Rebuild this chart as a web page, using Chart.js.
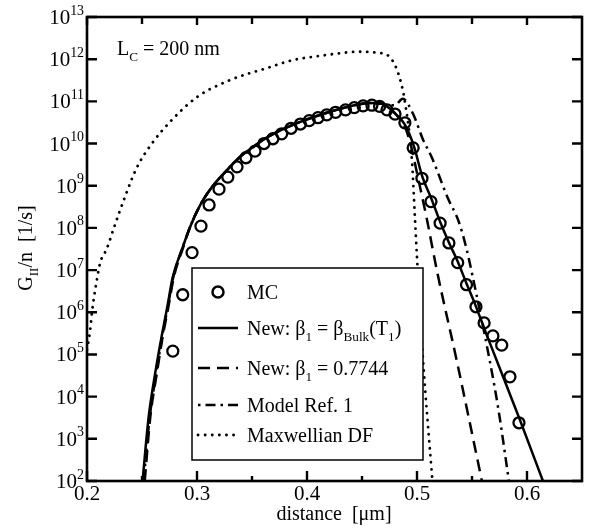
<!DOCTYPE html>
<html lang="en">
<head>
    <meta charset="UTF-8">
    <title>Impact ionization rate</title>
    <script src="https://cdn.jsdelivr.net/npm/chart.js"></script>
    <style>
        body {
            margin: 0;
            background: #fff;
        }
        .wrap {
            width: 592px;
            height: 531px;
        }
    </style>
</head>
<body>
    <div class="wrap">
        <canvas id="chart" width="592" height="531"></canvas>
    </div>

    <script>
        // MC symbols
        const mcX = [0.278, 0.287, 0.2955, 0.3036, 0.311, 0.32, 0.328, 0.3364, 0.3445, 0.3527,
                     0.3609, 0.369, 0.377, 0.3855, 0.394, 0.402, 0.41, 0.418, 0.426, 0.435,
                     0.443, 0.451, 0.459, 0.466, 0.4727, 0.48, 0.489, 0.4965, 0.5045, 0.5127,
                     0.521, 0.529, 0.537, 0.545, 0.5536, 0.561, 0.569, 0.577, 0.5845, 0.5927];
        const mcY = [1.2e5, 2.6e6, 2.6e7, 1.1e8, 3.5e8, 8.3e8, 1.6e9, 2.8e9, 4.6e9, 6.6e9,
                     1.0e10, 1.3e10, 1.7e10, 2.3e10, 2.9e10, 3.5e10, 4.1e10, 4.8e10, 5.5e10, 6.3e10,
                     7.1e10, 7.8e10, 8.1e10, 7.6e10, 6.3e10, 5.0e10, 3.1e10, 7.9e9, 1.5e9, 4.2e8,
                     1.3e8, 4.4e7, 1.5e7, 4.5e6, 1.35e6, 5.6e5, 2.75e5, 1.66e5, 2.95e4, 2.4e3];

        // New: beta1 = betaBulk(T1)
        const bulkX = [0.2505, 0.256, 0.262, 0.268, 0.273, 0.278, 0.2865, 0.294, 0.303, 0.3136,
                       0.327, 0.339, 0.351, 0.3636, 0.3845, 0.4055, 0.427, 0.4455, 0.457, 0.467,
                       0.4727, 0.48, 0.489, 0.497, 0.505, 0.513, 0.521, 0.529, 0.537, 0.545,
                       0.553, 0.5636, 0.5936, 0.6145];
        const bulkY = [1e2, 3.2e3, 3.6e4, 2.8e5, 1.35e6, 6.9e6, 3.2e7, 1.1e8, 3.5e8, 9.3e8,
                       2.3e9, 4.8e9, 8.3e9, 1.4e10, 2.6e10, 4.2e10, 6.3e10, 8.3e10, 9.1e10, 8.9e10,
                       7.6e10, 5.2e10, 2.8e10, 8.9e9, 1.6e9, 5.0e8, 1.4e8, 4.5e7, 1.6e7, 4.8e6,
                       1.5e6, 2.8e5, 2.8e3, 1e2];

        // New: beta1 = 0.7744
        const fixedX = [0.2525, 0.2575, 0.2635, 0.269, 0.274, 0.279, 0.287, 0.294, 0.303, 0.3136,
                        0.327, 0.339, 0.351, 0.3636, 0.3845, 0.4055, 0.427, 0.4455, 0.457, 0.467,
                        0.4727, 0.48, 0.489, 0.495, 0.5, 0.509, 0.518, 0.536, 0.559];
        const fixedY = [1e2, 3.2e3, 3.6e4, 2.8e5, 1.35e6, 6.9e6, 3.2e7, 1.1e8, 3.5e8, 9.3e8,
                        2.3e9, 4.8e9, 8.3e9, 1.4e10, 2.6e10, 4.2e10, 6.3e10, 8.3e10, 9.1e10, 8.9e10,
                        7.6e10, 5.2e10, 2.5e10, 7.9e9, 2.0e9, 1.6e8, 1.0e7, 7.4e4, 1e2];

        // Model Ref. 1
        const refX = [0.2515, 0.257, 0.263, 0.2685, 0.2735, 0.2785, 0.2865, 0.294, 0.303, 0.3136,
                      0.327, 0.339, 0.351, 0.3636, 0.3845, 0.4055, 0.427, 0.4455, 0.457, 0.467,
                      0.4727, 0.48, 0.487, 0.4965, 0.5055, 0.5136, 0.528, 0.538, 0.545,
                      0.551, 0.566, 0.574, 0.582, 0.5835];
        const refY = [1e2, 3.2e3, 3.6e4, 2.8e5, 1.35e6, 6.9e6, 3.2e7, 1.1e8, 3.5e8, 9.3e8,
                      2.3e9, 4.8e9, 8.3e9, 1.4e10, 2.6e10, 4.2e10, 6.3e10, 8.3e10, 9.1e10, 8.9e10,
                      8.3e10, 8.1e10, 1.15e11, 5.0e10, 1.23e10, 4.6e9, 5.1e8, 1.4e8, 3.2e7,
                      6.3e6, 7.4e4, 5.0e3, 1.9e2, 1e2];

        // Maxwellian DF
        const maxwX = [0.2, 0.2027, 0.2045, 0.2064, 0.209, 0.212, 0.218, 0.225, 0.2345, 0.245,
                       0.259, 0.277, 0.30, 0.33, 0.364, 0.387, 0.412, 0.448, 0.466, 0.473,
                       0.48, 0.4855, 0.489, 0.4955, 0.498, 0.5, 0.5055, 0.514];
        const maxwY = [1.3e5, 3.5e5, 9.8e5, 2.3e6, 5.9e6, 1.5e7, 3.2e7, 1.1e8, 5.4e8, 2.6e9,
                       1.0e10, 3.6e10, 1.26e11, 3.2e11, 6.2e11, 9.5e11, 1.2e12, 1.5e12, 1.4e12, 1.26e12,
                       7.2e11, 2.75e11, 9.8e10, 3.6e9, 2.0e8, 2.0e7, 7.4e4, 1e2];

        const xTicks = [0.2, 0.3, 0.4, 0.5, 0.6];
        const xMinor = [0.25, 0.35, 0.45, 0.55];
        const yExps = [2, 3, 4, 5, 6, 7, 8, 9, 10, 11, 12, 13];

        const SERIF = '"Liberation Serif", "DejaVu Serif", serif';

        function pts(xs, ys) {
            return xs.map((x, i) => ({ x: x, y: ys[i] }));
        }

        // text with sub / superscripts: parts = [[text, mode]], mode 0 normal, -1 sub, 1 sup
        function richWidth(ctx, parts, size) {
            let w = 0;
            parts.forEach(p => {
                ctx.font = (p[1] === 0 ? size : size * 0.66) + 'px ' + SERIF;
                w += ctx.measureText(p[0]).width;
            });
            return w;
        }
        function drawRich(ctx, x, y, parts, size) {
            ctx.textAlign = 'left';
            ctx.textBaseline = 'alphabetic';
            parts.forEach(p => {
                let s = size, dy = 0;
                if (p[1] === -1) { s = size * 0.66; dy = size * 0.28; }
                if (p[1] === 1) { s = size * 0.66; dy = -size * 0.45; }
                ctx.font = s + 'px ' + SERIF;
                ctx.fillText(p[0], x, y + dy);
                x += ctx.measureText(p[0]).width;
            });
        }

        const legendItems = [
            { kind: 'circle', parts: [['MC', 0]] },
            { kind: 'line', dash: [], parts: [['New: β', 0], ['1', -1], [' = β', 0], ['Bulk', -1], ['(T', 0], ['1', -1], [')', 0]] },
            { kind: 'line', dash: [12, 7], parts: [['New: β', 0], ['1', -1], [' = 0.7744', 0]] },
            { kind: 'line', dash: [2.5, 5, 10, 5], parts: [['Model Ref. 1', 0]] },
            { kind: 'line', dash: [0.1, 7], cap: 'round', parts: [['Maxwellian DF', 0]] }
        ];
        const legendRows = [292, 328, 368, 405, 435];

        const decorations = {
            id: 'decorations',
            afterDraw(chart) {
                const ctx = chart.ctx;
                const a = chart.chartArea;
                const xs = chart.scales.x, ys = chart.scales.y;
                ctx.save();
                ctx.fillStyle = '#000';
                ctx.strokeStyle = '#000';

                // frame
                ctx.lineWidth = 2.6;
                ctx.strokeRect(a.left, a.top, a.right - a.left, a.bottom - a.top);

                // ticks
                ctx.lineWidth = 2.4;
                ctx.beginPath();
                xTicks.forEach(v => {
                    const px = xs.getPixelForValue(v);
                    ctx.moveTo(px, a.bottom); ctx.lineTo(px, a.bottom - 10);
                    ctx.moveTo(px, a.top); ctx.lineTo(px, a.top + 8);
                });
                xMinor.forEach(v => {
                    const px = xs.getPixelForValue(v);
                    ctx.moveTo(px, a.bottom); ctx.lineTo(px, a.bottom - 5);
                    ctx.moveTo(px, a.top); ctx.lineTo(px, a.top + 7);
                });
                yExps.forEach(e => {
                    const py = ys.getPixelForValue(Math.pow(10, e));
                    ctx.moveTo(a.left, py); ctx.lineTo(a.left + 10, py);
                    ctx.moveTo(a.right, py); ctx.lineTo(a.right - 10, py);
                });
                ctx.stroke();

                // y tick labels 10^n
                yExps.forEach(e => {
                    const py = ys.getPixelForValue(Math.pow(10, e));
                    const parts = [['10', 0], [String(e), 1]];
                    const w = richWidth(ctx, parts, 21);
                    drawRich(ctx, a.left - 3 - w, py + 7, parts, 21);
                });

                // x tick labels
                ctx.font = '21px ' + SERIF;
                ctx.textAlign = 'center';
                ctx.textBaseline = 'alphabetic';
                xTicks.forEach(v => {
                    ctx.fillText(String(v), xs.getPixelForValue(v), 500);
                });

                // axis titles
                ctx.font = '20px ' + SERIF;
                ctx.fillText('distance  [μm]', 334, 520);

                const yt = [['G', 0], ['II', -1], ['/n  [1/s]', 0]];
                ctx.save();
                ctx.translate(32, 248);
                ctx.rotate(-Math.PI / 2);
                drawRich(ctx, -richWidth(ctx, yt, 20) / 2, 0, yt, 20);
                ctx.restore();

                // annotation
                drawRich(ctx, 117, 55, [['L', 0], ['C', -1], [' = 200 nm', 0]], 20);

                // legend
                ctx.fillStyle = '#fff';
                ctx.fillRect(192, 268, 231, 192);
                ctx.lineWidth = 1.5;
                ctx.strokeRect(192, 268, 231, 192);
                ctx.fillStyle = '#000';
                legendItems.forEach((it, i) => {
                    const y = legendRows[i];
                    ctx.lineWidth = 2.5;
                    if (it.kind === 'circle') {
                        ctx.setLineDash([]);
                        ctx.beginPath();
                        ctx.arc(218, y, 5.5, 0, Math.PI * 2);
                        ctx.stroke();
                    } else {
                        ctx.setLineDash(it.dash);
                        ctx.lineCap = it.cap || 'butt';
                        ctx.lineWidth = it.cap ? 2.8 : 2.5;
                        ctx.beginPath();
                        ctx.moveTo(198, y);
                        ctx.lineTo(238, y);
                        ctx.stroke();
                        ctx.setLineDash([]);
                        ctx.lineCap = 'butt';
                    }
                    drawRich(ctx, 247, y + 7, it.parts, 20);
                });
                ctx.restore();
            }
        };

        const lineBase = {
            type: 'line',
            borderColor: '#000',
            backgroundColor: '#000',
            borderWidth: 2.5,
            pointRadius: 0,
            fill: false,
            cubicInterpolationMode: 'monotone'
        };

        new Chart(document.getElementById('chart'), {
            type: 'scatter',
            data: {
                datasets: [
                    {
                        label: 'MC',
                        data: pts(mcX, mcY),
                        pointStyle: 'circle',
                        pointRadius: 5.5,
                        pointBorderWidth: 2.3,
                        borderColor: '#000',
                        backgroundColor: 'rgba(0,0,0,0)'
                    },
                    Object.assign({}, lineBase, { label: 'New bulk', data: pts(bulkX, bulkY) }),
                    Object.assign({}, lineBase, { label: 'New 0.7744', data: pts(fixedX, fixedY), borderDash: [12, 7] }),
                    Object.assign({}, lineBase, { label: 'Model Ref. 1', data: pts(refX, refY), borderDash: [10, 5, 2.5, 5] }),
                    Object.assign({}, lineBase, { label: 'Maxwellian DF', data: pts(maxwX, maxwY), borderDash: [0.1, 7], borderCapStyle: 'round', borderWidth: 2.8 })
                ]
            },
            options: {
                responsive: false,
                animation: false,
                devicePixelRatio: 1,
                layout: { padding: { left: 87, right: 10, top: 17, bottom: 50 } },
                plugins: {
                    legend: { display: false },
                    tooltip: { enabled: false }
                },
                scales: {
                    x: { type: 'linear', min: 0.2, max: 0.65, display: false },
                    y: { type: 'logarithmic', min: 1e2, max: 1e13, display: false }
                }
            },
            plugins: [decorations]
        });
    </script>
</body>
</html>
